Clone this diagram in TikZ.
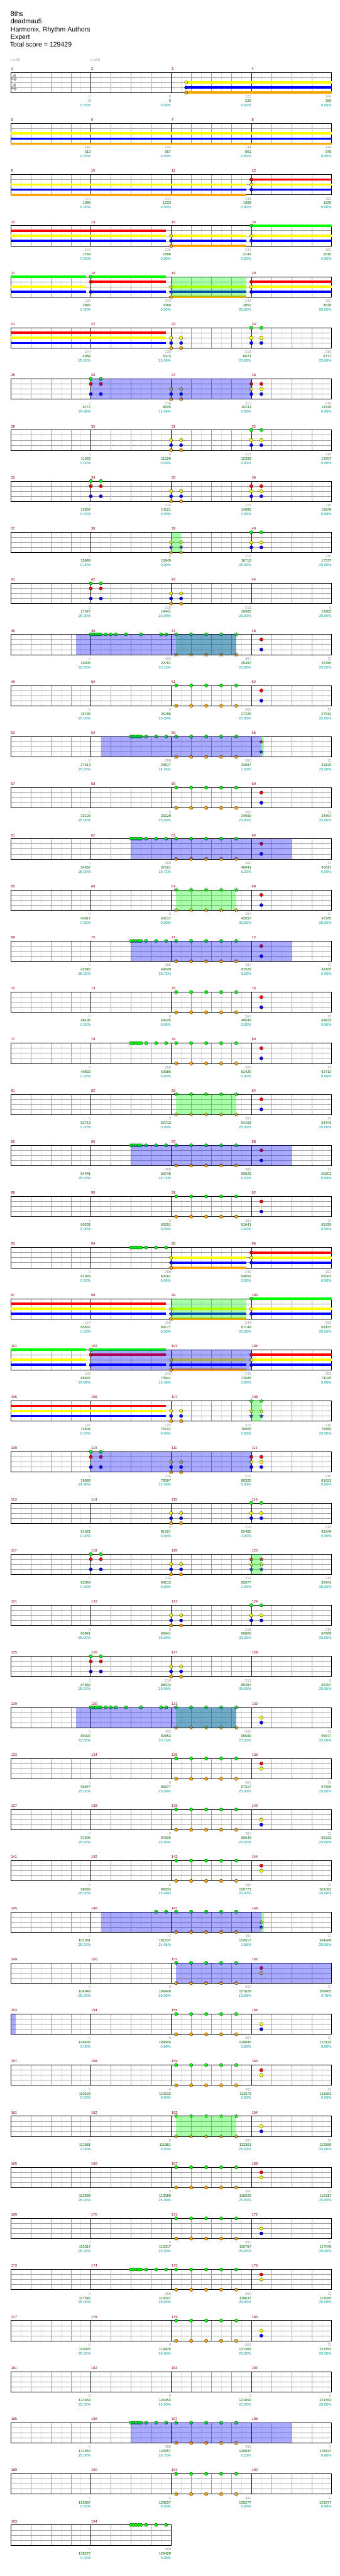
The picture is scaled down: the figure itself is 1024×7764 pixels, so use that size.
\documentclass[tikz,border=0pt]{standalone}
\usepackage{fontspec}
\setmainfont{Liberation Sans}
\newfontfamily\symfont{DejaVu Sans}
\usetikzlibrary{calc}

\definecolor{lane0}{HTML}{00FF00}
\definecolor{lane1}{HTML}{FF0000}
\definecolor{lane2}{HTML}{FFFF00}
\definecolor{lane3}{HTML}{0000FF}
\definecolor{lane4}{HTML}{FFA500}
\definecolor{barred}{HTML}{8B0000}
\definecolor{ptgray}{HTML}{999999}
\definecolor{ptgreen}{HTML}{006400}
\definecolor{ptcyan}{HTML}{009999}
\definecolor{eighthln}{HTML}{E4E4E4}
\definecolor{beatln}{HTML}{A0A0A0}

\tikzset{
  head/.style={anchor=base west,inner sep=0,font=\fontsize{20}{20}\selectfont},
  barno/.style={anchor=base west,inner sep=0,text=barred,font=\fontsize{11}{11}\selectfont},
  ptsa/.style={anchor=base east,inner sep=0,text=ptgray,font=\fontsize{11}{11}\selectfont},
  ptsb/.style={ptsa,text=ptgreen},
  ptsc/.style={ptsa,text=ptcyan},
  tsig/.style={inner sep=0,text=black!35,font=\fontsize{31}{31}\selectfont\bfseries},
  tempo/.style={anchor=base west,inner sep=0,text=black!40,font=\fontsize{11}{11}\selectfont},
  odb/.style={fill=blue,opacity=0.333},
  spg/.style={fill=lane0,opacity=0.333}
}

% x of measure #1 at beat #2, top of its staff
\newcommand{\gpos}[2]{%
  \pgfmathsetmacro{\px}{32+mod(#1-1,4)*242+#2*60.5}%
  \pgfmathsetmacro{\py}{218+154*floor((#1-1)/4)}}
\newcommand{\gnote}[3]{\gpos{#1}{#2}%
  \foreach \l in {#3}{\filldraw[fill=lane\l,draw=black,line width=0.5] (\px,\py+\l*15.25) circle[radius=5];}}
\newcommand{\gstar}[3]{\gpos{#1}{#2}%
  \foreach \l in {#3}{\filldraw[fill=lane\l,draw=black!75,line width=0.5,shift={(\px,\py+\l*15.25)}]
    (-90:6.5) -- (-54:2.7) -- (-18:6.5) -- (18:2.7) -- (54:6.5) -- (90:2.7)
    -- (126:6.5) -- (162:2.7) -- (198:6.5) -- (234:2.7) -- cycle;}}
\newcommand{\gsus}[5]{\gpos{#1}{#2}\let\sxa\px\gpos{#3}{#4}%
  \foreach \l in {#5}{\draw[lane\l,line width=7] (\sxa,\py+\l*15.25) -- (\px,\py+\l*15.25);}}
\newcommand{\gzone}[5]{\gpos{#2}{#3}\let\sxa\px\gpos{#4}{#5}%
  \fill[#1] (\sxa,\py) rectangle (\px,\py+61);}
\newcommand{\gpair}[2]{\gnote{#1}{0}{#2}\gnote{#1}{0.5}{#2}}
\newcommand{\gspair}[2]{\gstar{#1}{0}{#2}\gstar{#1}{0.5}{#2}}
\newcommand{\gfive}[1]{\foreach \b in {0.25,1,1.75,2.5,3.25}{\gnote{#1}{\b}{0,4}}}
\newcommand{\gfivestar}[1]{\foreach \b in {0.25,1,1.75,2.5,3.25}{\gstar{#1}{\b}{0,4}}}
\newcommand{\geight}[1]{\foreach \b in {2,2.125,2.25,2.375,2.5,2.75,3.25,3.75}{\gnote{#1}{\b}{0}}}
\newcommand{\gtwelve}[1]{\foreach \b in {0,0.125,0.25,0.375,0.5,0.75,1,1.25,1.75,2.5,3.5,3.75}{\gnote{#1}{\b}{0}}}

\begin{document}
\begin{tikzpicture}[x=1pt,y=-1pt]
\useasboundingbox[fill=white] (0,0) rectangle (1024,7764);

% song header
\node[head] (title) at (32,49) {8ths};
\node[head] (artist) at (32,72) {deadmau5};
\node[head] (charter) at (32,95) {Harmonix, Rhythm Authors};
\node[head] (level) at (32,118) {Expert};
\node[head] (score) at (30,141) {Total score = 129429};
\node[tempo] (tempo1) at (30,185) {{\symfont ♩}=128};
\node[tempo] (tempo2) at (272,185) {{\symfont ♩}=128};

% staves, 4 bars a line
\foreach \r in {0,...,48}{
  \pgfmathsetmacro{\T}{218+154*\r}
  \pgfmathsetmacro{\W}{ifthenelse(\r==48,484,968)}
  \pgfmathtruncatemacro{\ne}{\W/30.25}
  \pgfmathtruncatemacro{\nm}{\W/242}
  \foreach \i in {1,...,\ne}
    \draw[eighthln] (32+\i*30.25,\T) -- ++(0,61);
  \foreach \i in {2,4,...,\ne}
    \draw[beatln] (32+\i*30.25,\T) -- ++(0,61);
  \foreach \k in {1,2,3}
    \draw[beatln,line width=1.2] (32,\T+\k*15.25) -- ++(\W,0);
  \foreach \i in {8,16,...,\ne}
    \draw[black,line width=0.7] (32+\i*30.25,\T) -- ++(0,61);
  \draw[black,line width=1.3] (32,\T) rectangle ++(\W,61);
  \foreach \j in {1,...,\nm}{
    \pgfmathtruncatemacro{\mm}{4*\r+\j}
    \node[barno] (bar\mm) at (33+\j*242-242,\T-7) {\mm};
  }
}
\node[tsig] (tsup) at (42,234) {4};
\node[tsig] (tsdown) at (42,264) {4};

% notes and sustains
\gsus{3}{0.75}{4}{4}{2,3,4}\gnote{3}{0.75}{2,3,4}
\gsus{5}{0}{8}{4}{2,3,4}
\gsus{9}{0}{11}{3.75}{2,3,4}\gsus{12}{0}{12}{4}{1,2,3}\gnote{12}{0}{1,2,3}
\gsus{13}{0}{14}{3.75}{1,2,3}\gsus{15}{0}{15}{3.75}{2,3,4}\gnote{15}{0}{2,3,4}
\gsus{16}{0}{16}{4}{0,2,3}\gnote{16}{0}{0,2,3}
\gsus{17}{0}{17}{3.75}{0,2,3}\gsus{18}{0}{18}{3.75}{0,1,3}\gnote{18}{0}{0,1,3}
\gsus{19}{0}{19}{3.75}{2,3,4}\gstar{19}{0}{2,3,4}
\gsus{20}{0}{20}{4}{1,2,3}\gnote{20}{0}{1,2,3}
\gzone{spg}{19}{0}{19}{3.75}
\gsus{21}{0}{22}{3.75}{1,2,3}\gpair{23}{2,3,4}\gpair{24}{0,2,3}
\gpair{26}{0,1,3}\gpair{27}{2,3,4}\gpair{28}{1,2,3}
\gzone{odb}{26}{0}{28}{0}
\gpair{31}{2,3,4}\gpair{32}{0,2,3}
\gpair{34}{0,1,3}\gpair{35}{2,3,4}\gpair{36}{1,2,3}
\gspair{39}{2,3,4}\gpair{40}{0,2,3}
\gzone{spg}{39}{0}{39}{0.5}
\gpair{42}{0,1,3}\gpair{43}{2,3,4}
\gtwelve{46}\gfivestar{47}\gnote{48}{0.5}{1,3}
\gzone{spg}{47}{0.25}{47}{3.25}\gzone{odb}{45}{3.25}{47}{3.25}
\gfive{51}\gnote{52}{0.5}{1,3}
\geight{54}\gfive{55}\gstar{56}{0.5}{1,3}
\gzone{spg}{56}{0.5}{56}{0.62}\gzone{odb}{54}{0.5}{56}{0.5}
\gfive{59}\gnote{60}{0.5}{1,3}
\geight{62}\gfive{63}\gnote{64}{0.5}{1,3}
\gzone{odb}{62}{2}{64}{2}
\gfivestar{67}\gnote{68}{0.5}{1,3}
\gzone{spg}{67}{0.25}{67}{3.25}
\geight{70}\gfive{71}\gnote{72}{0.5}{1,3}
\gzone{odb}{70}{2}{72}{2}
\gfive{75}\gnote{76}{0.5}{1,3}
\geight{78}\gfive{79}\gnote{80}{0.5}{1,3}
\gfivestar{83}\gnote{84}{0.5}{1,3}
\gzone{spg}{83}{0.25}{83}{3.25}
\geight{86}\gfive{87}\gnote{88}{0.5}{1,3}
\gzone{odb}{86}{2}{88}{2}
\gfive{91}\gnote{92}{0.5}{1,3}
\geight{94}\gsus{95}{0}{95}{3.75}{2,3,4}\gnote{95}{0}{2,3,4}
\gsus{96}{0}{96}{4}{1,2,3}\gnote{96}{0}{1,2,3}
\gsus{97}{0}{98}{3.75}{1,2,3}\gsus{99}{0}{99}{3.75}{2,3,4}\gstar{99}{0}{2,3,4}
\gsus{100}{0}{100}{4}{0,2,3}\gnote{100}{0}{0,2,3}
\gzone{spg}{99}{0}{99}{3.75}
\gsus{101}{0}{101}{3.75}{0,2,3}\gsus{102}{0}{102}{3.75}{0,1,3}\gnote{102}{0}{0,1,3}
\gsus{103}{0}{103}{3.75}{2,3,4}\gnote{103}{0}{2,3,4}
\gsus{104}{0}{104}{4}{1,2,3}\gnote{104}{0}{1,2,3}
\gzone{odb}{102}{0}{104}{0}
\gsus{105}{0}{106}{3.75}{1,2,3}\gpair{107}{2,3,4}\gspair{108}{0,2,3}
\gzone{spg}{108}{0}{108}{0.5}
\gpair{110}{0,1,3}\gpair{111}{2,3,4}\gpair{112}{1,2,3}
\gzone{odb}{110}{0}{112}{0}
\gpair{115}{2,3,4}\gpair{116}{0,2,3}
\gpair{118}{0,1,3}\gpair{119}{2,3,4}\gspair{120}{1,2,3}
\gzone{spg}{120}{0}{120}{0.5}
\gpair{123}{2,3,4}\gpair{124}{0,2,3}
\gpair{126}{0,1,3}\gpair{127}{2,3,4}
\gtwelve{130}\gfivestar{131}\gnote{132}{0.5}{2,3}
\gzone{spg}{131}{0.25}{131}{3.25}\gzone{odb}{129}{3.25}{131}{3.25}
\gfive{135}\gnote{136}{0.5}{1,2}
\gfive{139}\gnote{140}{0.5}{2,3}
\gfive{143}\gnote{144}{0.5}{1,2}
\gnote{146}{3.25}{0}\gnote{146}{3.75}{0}\gfive{147}\gstar{148}{0.5}{2,3}
\gzone{spg}{148}{0.5}{148}{0.62}\gzone{odb}{146}{0.5}{148}{0.5}
\gfive{151}\gnote{152}{0.5}{1,2}
\gzone{odb}{151}{0.25}{152}{4}
\gzone{odb}{153}{0}{153}{0.25}
\gfive{155}\gnote{156}{0.5}{2,3}
\gfive{159}\gnote{160}{0.5}{1,2}
\gfivestar{163}\gnote{164}{0.5}{2,3}
\gzone{spg}{163}{0.25}{163}{3.25}
\gfive{167}\gnote{168}{0.5}{1,2}
\gfive{171}\gnote{172}{0.5}{2,3}
\geight{174}\gfive{175}\gnote{176}{0.5}{1,2}
\gfive{179}\gnote{180}{0.5}{2,3}
\geight{186}\gfive{187}
\gzone{odb}{186}{2}{188}{2}
\gfive{191}
\geight{194}

% bar scores
\foreach \m/\a/\b/\c in {1/0/0/0.00,2/0/0/0.00,3/225/225/0.00,4/144/369/0.00,
  5/144/513/0.00,6/144/657/0.00,7/144/801/0.00,8/144/945/0.00,
  9/144/1089/0.00,10/144/1233/0.00,11/135/1368/0.00,12/252/1620/0.00,
  13/144/1764/0.00,14/135/1899/0.00,15/243/2142/0.00,16/252/2610/0.00,
  17/135/2880/0.00,18/243/3366/0.00,19/243/3852/25.00,20/252/4536/25.00,
  21/144/4968/25.00,22/135/5373/25.00,23/216/6021/25.00,24/216/6777/25.00,
  25/0/6777/24.98,26/216/8505/12.48,27/216/10233/0.00,28/216/11529/0.00,
  29/0/11529/0.00,30/0/11529/0.00,31/216/12393/0.00,32/216/13257/0.00,
  33/0/13257/0.00,34/216/14121/0.00,35/216/14985/0.00,36/216/15849/0.00,
  37/0/15849/0.00,38/0/15849/0.00,39/216/16713/25.00,40/216/17577/25.00,
  41/0/17577/25.00,42/216/18441/25.00,43/216/19305/25.00,44/0/19305/25.00,
  45/0/19305/22.65,46/432/22761/10.15,47/360/25497/25.00,48/72/25785/25.00,
  49/0/25785/25.00,50/0/25785/25.00,51/360/27225/25.00,52/72/27513/25.00,
  53/0/27513/25.00,54/288/29817/14.05,55/360/32697/1.55,56/72/33129/25.00,
  57/0/33129/25.00,58/0/33129/25.00,59/360/34569/25.00,60/72/34857/25.00,
  61/0/34857/25.00,62/288/37161/18.72,63/360/40041/6.22,64/72/40617/0.00,
  65/0/40617/0.00,66/0/40617/0.00,67/360/42057/25.00,68/72/42345/25.00,
  69/0/42345/25.00,70/288/44649/18.72,71/360/47529/6.22,72/72/48105/0.00,
  73/0/48105/0.00,74/0/48105/0.00,75/360/49545/0.00,76/72/49833/0.00,
  77/0/49833/0.00,78/288/50985/0.00,79/360/52425/0.00,80/72/52713/0.00,
  81/0/52713/0.00,82/0/52713/0.00,83/360/54153/25.00,84/72/54441/25.00,
  85/0/54441/25.00,86/288/56745/18.72,87/360/59625/6.22,88/72/60201/0.00,
  89/0/60201/0.00,90/0/60201/0.00,91/360/61641/0.00,92/72/61929/0.00,
  93/0/61929/0.00,94/288/63081/0.00,95/243/64053/0.00,96/252/65061/0.00,
  97/144/65637/0.00,98/135/66177/0.00,99/243/67149/25.00,100/252/68157/25.00,
  101/135/68697/24.98,102/243/70641/12.48,103/243/72585/0.00,104/252/74025/0.00,
  105/144/74601/0.00,106/135/75141/0.00,107/216/76005/0.00,108/216/76869/25.00,
  109/0/76869/24.98,110/216/78597/12.48,111/216/80325/0.00,112/216/81621/0.00,
  113/0/81621/0.00,114/0/81621/0.00,115/216/82485/0.00,116/216/83349/0.00,
  117/0/83349/0.00,118/216/84213/0.00,119/216/85077/0.00,120/216/85941/25.00,
  121/0/85941/25.00,122/0/85941/25.00,123/216/86805/25.00,124/216/87669/25.00,
  125/0/87669/25.00,126/216/88533/25.00,127/216/89397/25.00,128/0/89397/25.00,
  129/0/89397/22.65,130/432/92853/10.15,131/360/95589/25.00,132/72/95877/25.00,
  133/0/95877/25.00,134/0/95877/25.00,135/360/97317/25.00,136/72/97605/25.00,
  137/0/97605/25.00,138/0/97605/25.00,139/360/99045/25.00,140/72/99333/25.00,
  141/0/99333/25.00,142/0/99333/25.00,143/360/100773/25.00,144/72/101061/25.00,
  145/0/101061/25.00,146/72/101637/14.06,147/360/104517/1.56,148/72/104949/25.00,
  149/0/104949/25.00,150/0/104949/25.00,151/360/107829/13.26,152/72/108405/0.76,
  153/0/108405/0.00,154/0/108405/0.00,155/360/109845/0.00,156/72/110133/0.00,
  157/0/110133/0.00,158/0/110133/0.00,159/360/111573/0.00,160/72/111861/0.00,
  161/0/111861/0.00,162/0/111861/0.00,163/360/113301/25.00,164/72/113589/25.00,
  165/0/113589/25.00,166/0/113589/25.00,167/360/115029/25.00,168/72/115317/25.00,
  169/0/115317/25.00,170/0/115317/25.00,171/360/116757/25.00,172/72/117045/25.00,
  173/0/117045/25.00,174/288/118197/25.00,175/360/119637/25.00,176/72/119925/25.00,
  177/0/119925/25.00,178/0/119925/25.00,179/360/121365/25.00,180/72/121653/25.00,
  181/0/121653/25.00,182/0/121653/25.00,183/0/121653/25.00,184/0/121653/25.00,
  185/0/121653/25.00,186/288/123957/18.73,187/360/126837/6.23,188/0/126837/0.00,
  189/0/126837/0.00,190/0/126837/0.00,191/360/128277/0.00,192/0/128277/0.00,
  193/0/128277/0.00,194/288/129429/0.00}{
  \pgfmathsetmacro{\ex}{32+(mod(\m-1,4)+1)*242}
  \pgfmathsetmacro{\ey}{218+154*floor((\m-1)/4)}
  \node[ptsa] (gain\m) at (\ex,\ey+77) {\a};
  \node[ptsb] (total\m) at (\ex,\ey+90) {\b};
  \node[ptsc] (pct\m) at (\ex,\ey+103) {\c\%};
}
\end{tikzpicture}
\end{document}
